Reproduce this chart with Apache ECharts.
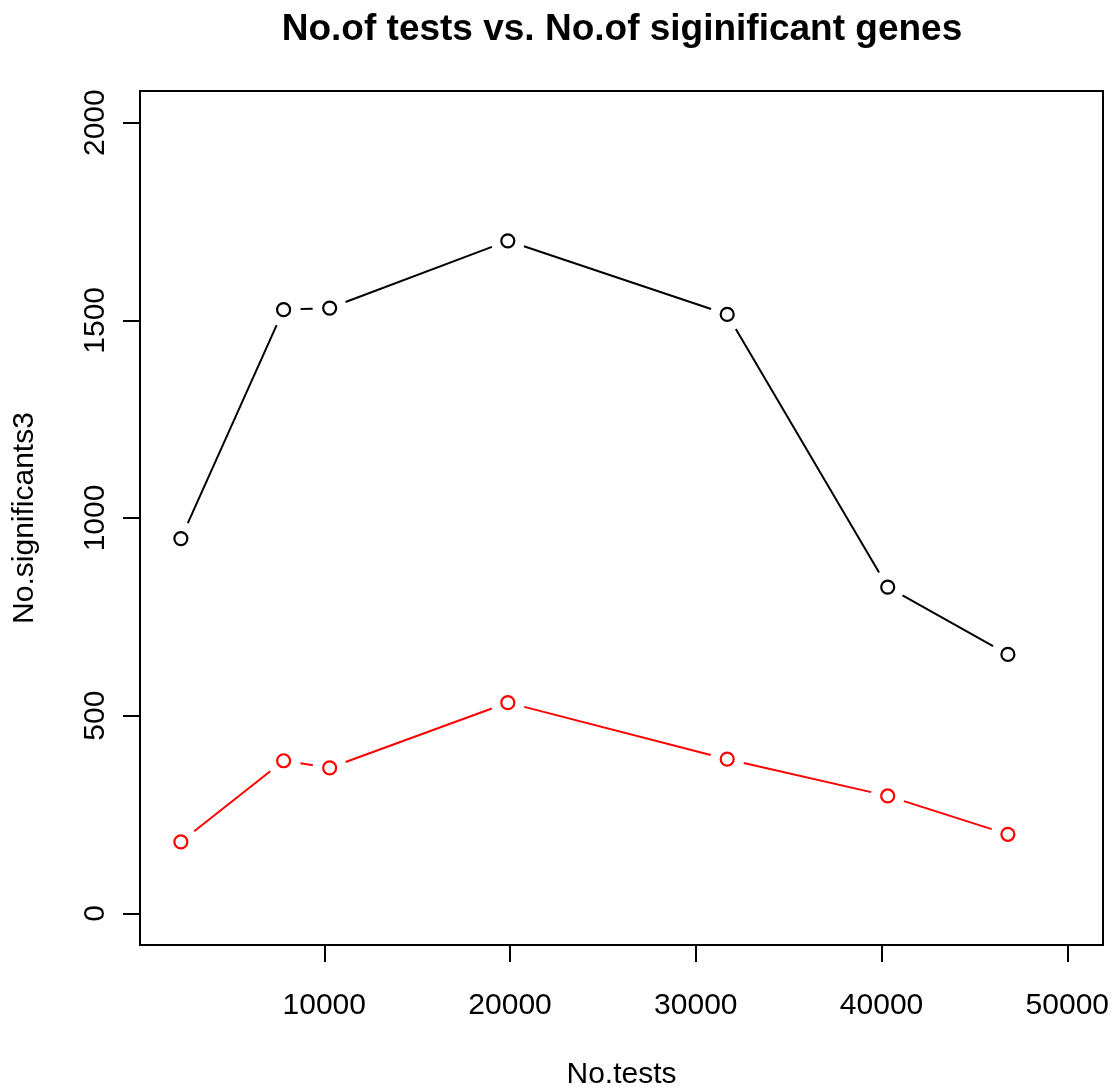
<!DOCTYPE html>
<html>
<head>
<meta charset="utf-8">
<title>No.of tests vs. No.of siginificant genes</title>
<script src="https://cdn.jsdelivr.net/npm/echarts@6/dist/echarts.min.js"></script>
<style>
  html, body { margin: 0; padding: 0; background: #fff; }
  #chart { width: 1117px; height: 1089px; }
</style>
</head>
<body>
<div id="chart"></div>
<script>
// Number of tests per run (x) and significant genes found (y)
const noTests = [2280, 7810, 10290, 19880, 31690, 40330, 46800];
const significantsBlack = [948, 1527, 1531, 1701, 1515, 825, 655];
const significantsRed = [181, 386, 368, 533, 390, 297, 200];
const xTickValues = [10000, 20000, 30000, 40000, 50000];
const yTickValues = [0, 500, 1000, 1500, 2000];

const FONT = '"Liberation Sans", Arial, Helvetica, sans-serif';
const GAP = 17; // blank space left around each point on the connecting lines

function pointsOf(ys) {
  return noTests.map((x, i) => [x, ys[i]]);
}
function segmentsOf(ys) {
  const segs = [];
  for (let i = 0; i < noTests.length - 1; i++) {
    segs.push([noTests[i], ys[i], noTests[i + 1], ys[i + 1]]);
  }
  return segs;
}

// Straight segments between consecutive points, trimmed near each point
function gappedLine(color) {
  return function (params, api) {
    const p0 = api.coord([api.value(0), api.value(1)]);
    const p1 = api.coord([api.value(2), api.value(3)]);
    const dx = p1[0] - p0[0], dy = p1[1] - p0[1];
    const len = Math.sqrt(dx * dx + dy * dy);
    if (len <= 2 * GAP) return null;
    const ux = dx / len, uy = dy / len;
    return {
      type: 'line',
      shape: {
        x1: p0[0] + ux * GAP, y1: p0[1] + uy * GAP,
        x2: p1[0] - ux * GAP, y2: p1[1] - uy * GAP
      },
      style: { stroke: color, lineWidth: 2 }
    };
  };
}

function lineSeries(ys, color) {
  return {
    type: 'custom',
    renderItem: gappedLine(color),
    data: segmentsOf(ys),
    encode: { x: [0, 2], y: [1, 3] },
    silent: true,
    z: 2
  };
}
function pointSeries(ys, color) {
  return {
    type: 'scatter',
    data: pointsOf(ys),
    symbol: 'circle',
    symbolSize: 13,
    itemStyle: { color: '#ffffff', borderColor: color, borderWidth: 2.2, opacity: 1 },
    emphasis: { disabled: true },
    silent: true,
    z: 3
  };
}

const plain = v => String(v);

const chart = echarts.init(document.getElementById('chart'), null, { renderer: 'canvas' });
chart.setOption({
  animation: false,
  backgroundColor: '#ffffff',
  textStyle: { fontFamily: FONT },
  title: {
    text: 'No.of tests vs. No.of siginificant genes',
    left: 617,
    top: 6,
    textAlign: 'center',
    textStyle: { fontFamily: FONT, fontSize: 37, fontWeight: 'bold', color: '#000' }
  },
  grid: {
    left: 140, right: 14, top: 91, bottom: 144,
    outerBoundsMode: 'none',
    containLabel: false,
    show: true, borderColor: '#000', borderWidth: 2, backgroundColor: 'transparent'
  },
  xAxis: {
    type: 'value',
    min: 80, max: 51920,
    name: 'No.tests',
    nameLocation: 'middle',
    nameGap: 115,
    nameTextStyle: { fontFamily: FONT, fontSize: 30, color: '#000' },
    splitLine: { show: false },
    axisLine: { show: true, onZero: false, lineStyle: { color: '#000', width: 2 } },
    axisTick: { show: true, inside: false, length: 17, lineStyle: { color: '#000', width: 2 }, customValues: xTickValues },
    axisLabel: { show: true, margin: 46, fontFamily: FONT, fontSize: 30, color: '#000', customValues: xTickValues, formatter: plain }
  },
  yAxis: {
    type: 'value',
    min: -80, max: 2080,
    name: 'No.significants3',
    nameLocation: 'middle',
    nameGap: 100,
    nameTextStyle: { fontFamily: FONT, fontSize: 30, color: '#000' },
    splitLine: { show: false },
    axisLine: { show: true, onZero: false, lineStyle: { color: '#000', width: 2 } },
    axisTick: { show: true, inside: false, length: 17, lineStyle: { color: '#000', width: 2 }, customValues: yTickValues },
    axisLabel: { show: true, rotate: 90, margin: 29, fontFamily: FONT, fontSize: 30, color: '#000', customValues: yTickValues, formatter: plain }
  },
  series: [
    lineSeries(significantsBlack, '#000000'),
    pointSeries(significantsBlack, '#000000'),
    lineSeries(significantsRed, '#ff0000'),
    pointSeries(significantsRed, '#ff0000')
  ]
});
</script>
</body>
</html>
